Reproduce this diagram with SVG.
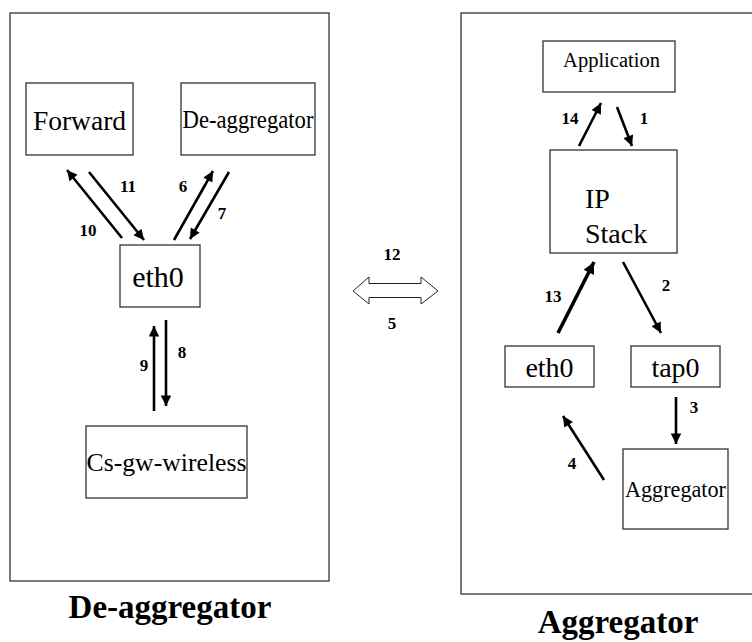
<svg xmlns="http://www.w3.org/2000/svg" width="752" height="642" viewBox="0 0 752 642">
<defs>
<marker id="ah" viewBox="0 0 10 10" refX="10" refY="5" markerWidth="5" markerHeight="4" markerUnits="strokeWidth" orient="auto">
<path d="M0,0 L10,5 L0,10 z" fill="#000"/>
</marker>
<marker id="ahT" viewBox="0 0 10 10" refX="10" refY="5" markerWidth="4" markerHeight="3.2" markerUnits="strokeWidth" orient="auto">
<path d="M0,0 L10,5 L0,10 z" fill="#000"/>
</marker>
</defs>
<style>
.box{fill:#fff;stroke:#333;stroke-width:1.3}
.frame{fill:none;stroke:#333;stroke-width:1.3}
.t{fill:#000}
.n{font-weight:bold;font-size:17px;fill:#000;text-anchor:middle}
.title{font-weight:bold;font-size:33px;fill:#000;text-anchor:middle}
.a{stroke:#000;stroke-width:2.6;fill:none;marker-end:url(#ah)}
.aT{stroke:#000;stroke-width:3.6;fill:none;marker-end:url(#ahT)}
</style>
<rect width="752" height="642" fill="#fff"/>
<g font-family="Liberation Serif, DejaVu Serif, serif">
<g id="deaggregator-frame">
<rect class="frame" x="10" y="13" width="319" height="568"/>
<text class="title" x="170" y="618">De-aggregator</text>
</g>
<g id="aggregator-frame">
<rect class="frame" x="461" y="13" width="320" height="581"/>
<text class="title" x="618" y="633">Aggregator</text>
</g>

<g id="forward">
<rect class="box" x="26" y="83" width="107" height="72"/>
<text class="t" x="79.5" y="130" font-size="27.5" text-anchor="middle">Forward</text>
</g>
<g id="deagg">
<rect class="box" x="181" y="83" width="134" height="72"/>
<text class="t" x="248" y="128" font-size="24.5" text-anchor="middle" textLength="131" lengthAdjust="spacingAndGlyphs">De-aggregator</text>
</g>
<g id="eth0-left">
<rect class="box" x="120" y="245" width="80" height="62"/>
<text class="t" x="158" y="287" font-size="30" text-anchor="middle">eth0</text>
</g>
<g id="csgw">
<rect class="box" x="86" y="426" width="161" height="72"/>
<text class="t" x="166.5" y="471" font-size="26" text-anchor="middle" textLength="160" lengthAdjust="spacingAndGlyphs">Cs-gw-wireless</text>
</g>

<g id="application">
<rect class="box" x="543" y="41" width="132" height="51"/>
<text class="t" x="611.5" y="67" font-size="20.5" text-anchor="middle">Application</text>
</g>
<g id="ipstack">
<rect class="box" x="550" y="150" width="127" height="103"/>
<text class="t" x="585" y="208" font-size="28">IP</text>
<text class="t" x="585" y="243" font-size="28">Stack</text>
</g>
<g id="eth0-right">
<rect class="box" x="505" y="346" width="89" height="41"/>
<text class="t" x="549.5" y="377" font-size="28" text-anchor="middle">eth0</text>
</g>
<g id="tap0">
<rect class="box" x="631" y="346" width="89" height="41"/>
<text class="t" x="675.5" y="377" font-size="28" text-anchor="middle">tap0</text>
</g>
<g id="aggregator">
<rect class="box" x="623" y="449" width="105" height="80"/>
<text class="t" x="675.5" y="497" font-size="22.3" text-anchor="middle" textLength="101" lengthAdjust="spacingAndGlyphs">Aggregator</text>
</g>

<g id="connectors">
<line class="a" x1="122" y1="238" x2="67" y2="170"/>
<line class="a" x1="89" y1="172" x2="144" y2="240"/>
<line class="a" x1="174" y1="240" x2="213" y2="171"/>
<line class="a" x1="229" y1="172" x2="190" y2="239"/>
<line class="a" x1="154" y1="411" x2="154" y2="326"/>
<line class="a" x1="166" y1="320" x2="166" y2="406"/>
<line class="a" x1="579" y1="146" x2="601" y2="103"/>
<line class="a" x1="617" y1="107" x2="632" y2="146"/>
<line class="aT" x1="558" y1="333" x2="594" y2="262"/>
<line class="a" x1="623" y1="262" x2="661" y2="333"/>
<line class="a" x1="676" y1="397" x2="676" y2="444"/>
<line class="a" x1="604" y1="480" x2="563" y2="416"/>
<path d="M353,291 L369,277 L369,283.5 L421,283.5 L421,277 L438,291 L421,304 L421,297.5 L369,297.5 L369,304 Z" fill="#fff" stroke="#222" stroke-width="1"/>
</g>

<g id="labels">
<text class="n" x="128" y="192">11</text>
<text class="n" x="88" y="236">10</text>
<text class="n" x="183" y="192">6</text>
<text class="n" x="222" y="219">7</text>
<text class="n" x="144" y="371">9</text>
<text class="n" x="182" y="358">8</text>
<text class="n" x="392" y="260">12</text>
<text class="n" x="392" y="329">5</text>
<text class="n" x="570" y="124">14</text>
<text class="n" x="644" y="124">1</text>
<text class="n" x="553" y="302">13</text>
<text class="n" x="666" y="291">2</text>
<text class="n" x="694" y="413">3</text>
<text class="n" x="572" y="469">4</text>
</g>
</g>
</svg>
